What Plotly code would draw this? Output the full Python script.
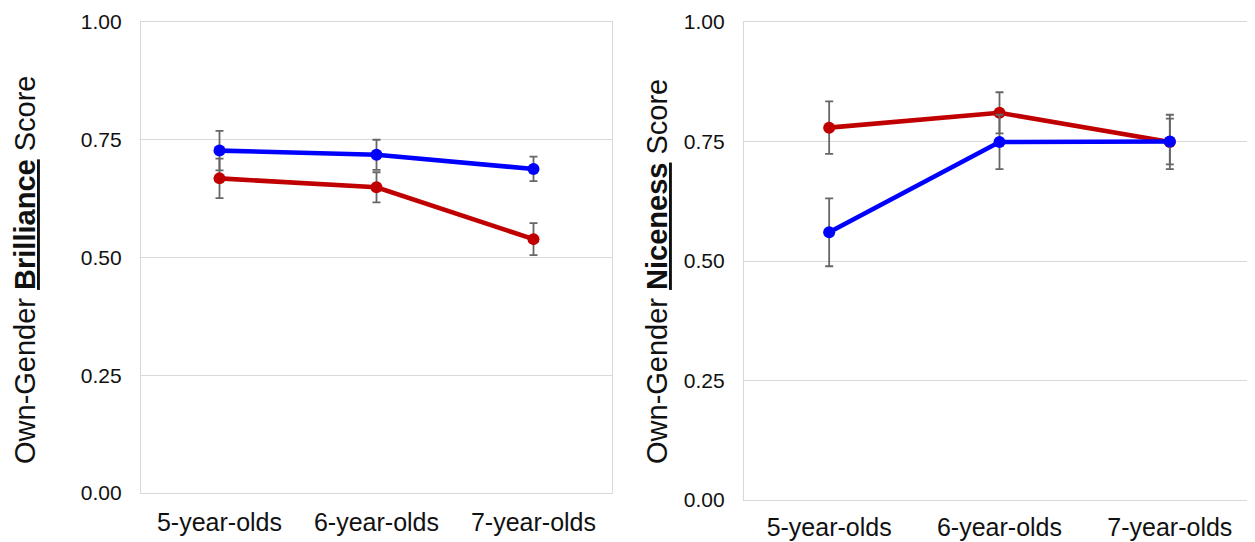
import plotly.graph_objects as go

categories = ["5-year-olds", "6-year-olds", "7-year-olds"]

# Brilliance panel
bril_blue = [0.727, 0.718, 0.688]
bril_blue_err = [0.042, 0.032, 0.026]
bril_red = [0.668, 0.649, 0.539]
bril_red_err = [0.042, 0.032, 0.034]

# Niceness panel
nice_blue = [0.560, 0.749, 0.750]
nice_blue_err = [0.071, 0.057, 0.048]
nice_red = [0.779, 0.810, 0.749]
nice_red_err = [0.055, 0.043, 0.057]

y_ticks = [0, 0.25, 0.5, 0.75, 1.0]
y_ticklabels = ["0.00", "0.25", "0.50", "0.75", "1.00"]

title_left = "Own-Gender <b><u>Brilliance</u></b> Score"
title_right = "Own-Gender <b><u>Niceness</u></b> Score"

BLUE = "#0000FF"
RED = "#C00000"
ERR = "#666666"
GRID = "#d9d9d9"
FONT = "Liberation Sans, Arial, sans-serif"
# page body has an 8px margin, so the figure is drawn 8px in from the window corner
OFF = 8
W, H = 1255 - OFF, 542 - OFF


def px_x(s):
    return (s - OFF) / W


def px_y(s):
    return 1 - (s - OFF) / H


fig = go.Figure()


def add_series(vals, errs, color, xa, ya):
    fig.add_trace(go.Scatter(
        x=categories, y=vals, mode="lines+markers",
        line=dict(color=color, width=4.6),
        marker=dict(color=color, size=12),
        error_y=dict(type="data", array=errs, visible=True, color=ERR, thickness=1.8, width=4),
        xaxis=xa, yaxis=ya, showlegend=False, cliponaxis=False,
    ))


add_series(bril_blue, bril_blue_err, BLUE, "x", "y")
add_series(bril_red, bril_red_err, RED, "x", "y")
add_series(nice_red, nice_red_err, RED, "x2", "y2")
add_series(nice_blue, nice_blue_err, BLUE, "x2", "y2")


def xax(ticklen):
    return dict(type="category", range=[-0.5, 2.5], showgrid=False, showline=True, mirror=True,
                linecolor=GRID, linewidth=1.2, ticks="outside", ticklen=ticklen,
                tickcolor="rgba(0,0,0,0)", automargin=False,
                tickfont=dict(size=25, color="#111", family=FONT), zeroline=False)


yax = dict(range=[0, 1], tickvals=y_ticks, ticktext=y_ticklabels, showgrid=True, gridcolor=GRID,
           gridwidth=1.2, showline=True, mirror=True, linecolor=GRID, linewidth=1.2,
           ticks="outside", ticklen=14, tickcolor="rgba(0,0,0,0)", zeroline=False,
           automargin=False, tickfont=dict(size=21, color="#111", family=FONT))

fig.update_layout(
    width=W, height=H,
    margin=dict(l=0, r=0, t=0, b=0),
    paper_bgcolor="white", plot_bgcolor="white",
    font=dict(family=FONT, color="#111"),
    xaxis=dict(domain=[px_x(141), px_x(612)], anchor="y", **xax(7)),
    yaxis=dict(domain=[px_y(493), px_y(22)], anchor="x", **yax),
    xaxis2=dict(domain=[px_x(744), 1.0], anchor="y2", **xax(5)),
    yaxis2=dict(domain=[px_y(500), px_y(22)], anchor="x2", **yax),
    annotations=[
        dict(text=title_left, x=px_x(25), y=px_y(270), xref="paper", yref="paper",
             xanchor="center", yanchor="middle", textangle=-90, showarrow=False,
             font=dict(size=29, family=FONT, color="#111")),
        dict(text=title_right, x=px_x(657), y=px_y(272), xref="paper", yref="paper",
             xanchor="center", yanchor="middle", textangle=-90, showarrow=False,
             font=dict(size=29, family=FONT, color="#111")),
    ],
)

fig.write_html("out.html")
